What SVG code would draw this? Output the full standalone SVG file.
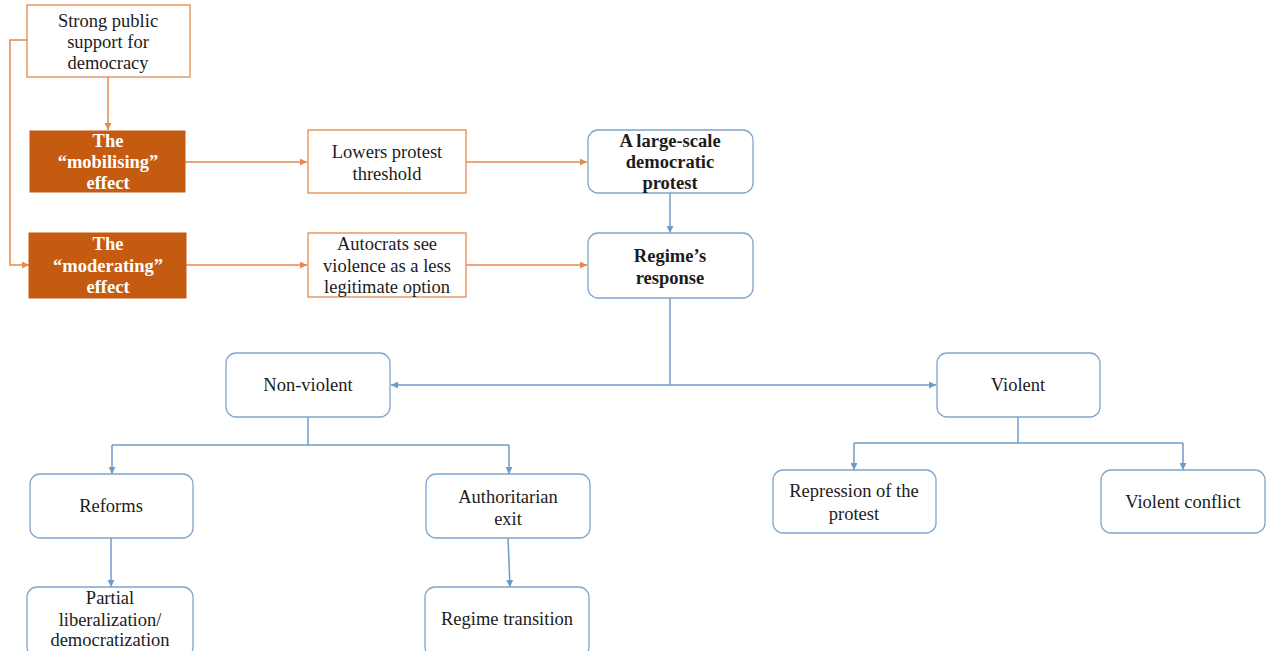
<svg xmlns="http://www.w3.org/2000/svg" width="1266" height="651" viewBox="0 0 1266 651">
  <style>
    .box-o { fill: #ffffff; stroke: #E58A4E; stroke-width: 1.3; }
    .box-d { fill: #C55A11; stroke: #C55A11; stroke-width: 1; }
    .box-b { fill: #ffffff; stroke: #7FA6CC; stroke-width: 1.3; }
    text { font-family: "Liberation Serif", "Times New Roman", serif; font-size: 18.5px; fill: #1c1c1c; text-anchor: middle; }
    .bold { font-weight: bold; }
    .light { fill: #ffffff; font-weight: bold; }
    .c-o { fill: none; stroke: #E58A4E; stroke-width: 1.5; }
    .c-b { fill: none; stroke: #6E9CC7; stroke-width: 1.5; }
  </style>
  <defs>
    <marker id="arr-o" viewBox="0 0 10 10" refX="10" refY="5" markerWidth="7" markerHeight="7" markerUnits="userSpaceOnUse" orient="auto">
      <path d="M0,0 L10,5 L0,10 Z" fill="#E58A4E"/>
    </marker>
    <marker id="arr-b" viewBox="0 0 10 10" refX="10" refY="5" markerWidth="7" markerHeight="7" markerUnits="userSpaceOnUse" orient="auto-start-reverse">
      <path d="M0,0 L10,5 L0,10 Z" fill="#6E9CC7"/>
    </marker>
  </defs>
  <rect width="1266" height="651" fill="#ffffff"/>

  <!-- connectors -->
  <g id="connectors">
    <path class="c-o" d="M27,40 H10 V265 H29" marker-end="url(#arr-o)"/>
    <path class="c-o" d="M108,77 V130" marker-end="url(#arr-o)"/>
    <path class="c-o" d="M185,162 H307" marker-end="url(#arr-o)"/>
    <path class="c-o" d="M466,162 H587" marker-end="url(#arr-o)"/>
    <path class="c-o" d="M186,265 H307" marker-end="url(#arr-o)"/>
    <path class="c-o" d="M466,265 H587" marker-end="url(#arr-o)"/>
    <path class="c-b" d="M670,193 V233" marker-end="url(#arr-b)"/>
    <path class="c-b" d="M670,298 V385"/>
    <path class="c-b" d="M391,385 H936" marker-start="url(#arr-b)" marker-end="url(#arr-b)"/>
    <path class="c-b" d="M308,417 V445"/>
    <path class="c-b" d="M112,445 H509"/>
    <path class="c-b" d="M112,445 V474" marker-end="url(#arr-b)"/>
    <path class="c-b" d="M509,445 V474" marker-end="url(#arr-b)"/>
    <path class="c-b" d="M1018,417 V443"/>
    <path class="c-b" d="M854,443 H1183"/>
    <path class="c-b" d="M854,443 V470" marker-end="url(#arr-b)"/>
    <path class="c-b" d="M1183,443 V470" marker-end="url(#arr-b)"/>
    <path class="c-b" d="M111,538 V587" marker-end="url(#arr-b)"/>
    <path class="c-b" d="M508,538 L510,587" marker-end="url(#arr-b)"/>
  </g>

  <g id="support">
    <rect class="box-o" x="27" y="5" width="163" height="72"/>
    <text x="108" y="27">Strong public</text>
    <text x="108" y="48">support for</text>
    <text x="108" y="69">democracy</text>
  </g>
  <g id="mobilising">
    <rect class="box-d" x="30" y="131" width="155" height="61"/>
    <text class="light" x="108" y="147">The</text>
    <text class="light" x="108" y="168">“mobilising”</text>
    <text class="light" x="108" y="189">effect</text>
  </g>
  <g id="moderating">
    <rect class="box-d" x="29" y="233" width="157" height="65"/>
    <text class="light" x="108" y="250">The</text>
    <text class="light" x="108" y="272">“moderating”</text>
    <text class="light" x="108" y="293">effect</text>
  </g>
  <g id="threshold">
    <rect class="box-o" x="308" y="130" width="158" height="63"/>
    <text x="387" y="158">Lowers protest</text>
    <text x="387" y="180">threshold</text>
  </g>
  <g id="autocrats">
    <rect class="box-o" x="308" y="233" width="158" height="64"/>
    <text x="387" y="250">Autocrats see</text>
    <text x="387" y="272">violence as a less</text>
    <text x="387" y="293">legitimate option</text>
  </g>
  <g id="protest">
    <rect class="box-b" x="588" y="130" width="165" height="63" rx="10"/>
    <text class="bold" x="670" y="147">A large-scale</text>
    <text class="bold" x="670" y="168">democratic</text>
    <text class="bold" x="670" y="189">protest</text>
  </g>
  <g id="response">
    <rect class="box-b" x="588" y="233" width="165" height="65" rx="10"/>
    <text class="bold" x="670" y="262">Regime’s</text>
    <text class="bold" x="670" y="284">response</text>
  </g>
  <g id="nonviolent">
    <rect class="box-b" x="226" y="353" width="164" height="64" rx="10"/>
    <text x="308" y="391">Non-violent</text>
  </g>
  <g id="violent">
    <rect class="box-b" x="937" y="353" width="163" height="64" rx="10"/>
    <text x="1018" y="391">Violent</text>
  </g>
  <g id="reforms">
    <rect class="box-b" x="30" y="474" width="163" height="64" rx="10"/>
    <text x="111" y="512">Reforms</text>
  </g>
  <g id="exit">
    <rect class="box-b" x="426" y="474" width="164" height="64" rx="10"/>
    <text x="508" y="503">Authoritarian</text>
    <text x="508" y="525">exit</text>
  </g>
  <g id="repression">
    <rect class="box-b" x="773" y="470" width="163" height="63" rx="10"/>
    <text x="854" y="497">Repression  of the</text>
    <text x="854" y="520">protest</text>
  </g>
  <g id="conflict">
    <rect class="box-b" x="1101" y="470" width="164" height="63" rx="10"/>
    <text x="1183" y="508">Violent conflict</text>
  </g>
  <g id="liberalization">
    <rect class="box-b" x="27" y="587" width="166" height="70" rx="10"/>
    <text x="110" y="604">Partial</text>
    <text x="110" y="626">liberalization/</text>
    <text x="110" y="646">democratization</text>
  </g>
  <g id="transition">
    <rect class="box-b" x="425" y="587" width="164" height="70" rx="10"/>
    <text x="507" y="625">Regime transition</text>
  </g>
</svg>
